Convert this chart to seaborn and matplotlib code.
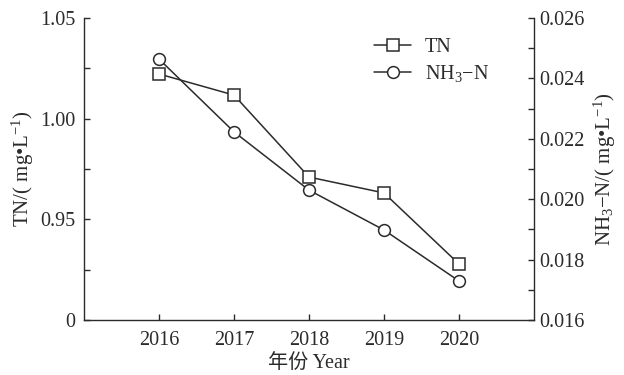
import matplotlib
matplotlib.use("Agg")
import matplotlib.pyplot as plt
import seaborn as sns
import pandas as pd
from matplotlib.ticker import MultipleLocator, FixedLocator, FixedFormatter

# Annual nitrogen concentrations
years = [2016, 2017, 2018, 2019, 2020]
tn = [1.0222, 1.0117, 0.9710, 0.9631, 0.9278]
nh3n = [0.02464, 0.02223, 0.02030, 0.01898, 0.01729]

left_ticks = [0.90, 0.95, 1.00, 1.05]
left_labels = ["0", "0.95", "1.00", "1.05"]
right_ticks = [0.016, 0.018, 0.020, 0.022, 0.024, 0.026]
right_labels = ["0.016", "0.018", "0.020", "0.022", "0.024", "0.026"]

sns.set_style("ticks")
plt.rcParams["font.family"] = ["Liberation Serif", "Noto Sans CJK SC"]
plt.rcParams["mathtext.fontset"] = "custom"
plt.rcParams["mathtext.rm"] = "Liberation Serif"
plt.rcParams["mathtext.it"] = "Liberation Serif:italic"

ink = "#2b2b2b"
df = pd.DataFrame({"year": years, "TN": tn, "NH3N": nh3n})

fig = plt.figure(figsize=(6.24, 3.75), dpi=100)
ax = fig.add_axes([0.1346, 0.1467, 0.7212, 0.8053])
ax2 = ax.twinx()

style = dict(color=ink, linewidth=1.1, markersize=8.5, markerfacecolor="white",
             markeredgecolor=ink, markeredgewidth=1.1)
sns.lineplot(data=df, x="year", y="TN", marker="s", ax=ax, label="TN", legend=False, **style)
sns.lineplot(data=df, x="year", y="NH3N", marker="o", ax=ax2, label=r"NH$_3$−N", legend=False, **style)

ax.set_xlim(2015, 2021)
ax.set_ylim(0.90, 1.05)
ax2.set_ylim(0.016, 0.026)

ax.xaxis.set_major_locator(FixedLocator(years))
ax.set_xticklabels([str(y) for y in years])
ax.yaxis.set_major_locator(FixedLocator(left_ticks))
ax.yaxis.set_major_formatter(FixedFormatter(left_labels))
ax.yaxis.set_minor_locator(FixedLocator([0.925, 0.975, 1.025]))
ax2.yaxis.set_major_locator(FixedLocator(right_ticks))
ax2.yaxis.set_major_formatter(FixedFormatter(right_labels))
ax2.yaxis.set_minor_locator(MultipleLocator(0.001))

for a in (ax, ax2):
    for s in a.spines.values():
        s.set_color(ink)
        s.set_linewidth(1.0)
    a.spines["top"].set_visible(False)
    a.tick_params(which="both", direction="in", length=4, width=1.0, color=ink,
                  labelsize=14.5, labelcolor=ink)
ax.spines["right"].set_visible(False)
ax2.spines["left"].set_visible(False)
ax2.spines["bottom"].set_visible(False)
ax.tick_params(axis="x", pad=8)
ax.tick_params(axis="y", pad=6)
ax2.tick_params(axis="y", pad=4)

ax.set_xlabel("年份 Year", fontsize=14.5, color=ink, labelpad=3)
ax.set_ylabel("TN/( mg•L$^{-1}$)", fontsize=15, color=ink, labelpad=3)
ax2.set_ylabel(r"NH$_3$−N/( mg•L$^{-1}$)", fontsize=15, color=ink, labelpad=5)

h1, l1 = ax.get_legend_handles_labels()
h2, l2 = ax2.get_legend_handles_labels()
ax2.legend(h1 + h2, l1 + l2, loc="upper left", bbox_to_anchor=(0.605, 0.995),
           frameon=False, fontsize=14.5, handlelength=1.8, handletextpad=0.7,
           labelspacing=0.3, labelcolor=ink)

fig.savefig("out.png", dpi=100)
